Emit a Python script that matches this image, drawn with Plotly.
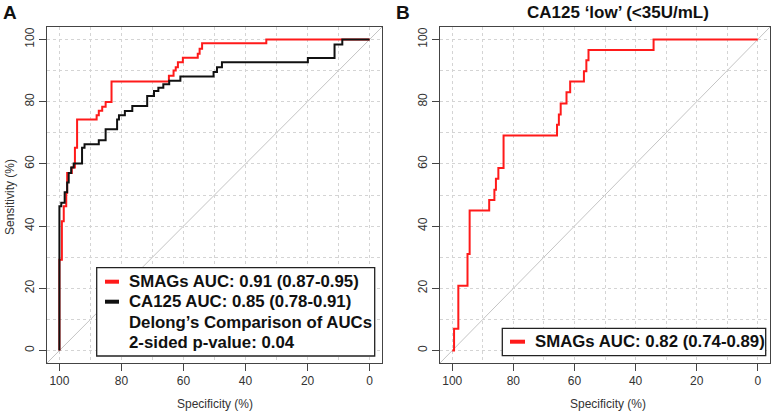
import plotly.graph_objects as go

# ---------------- data ----------------
# Panel A: SMAGs ROC (specificity %, sensitivity %), top of each vertical step
smags_a_spec = [100, 100, 99.2, 98.6, 97.8, 97.5, 96.0, 95.0, 94.3, 88.0, 87.3, 86.2, 85.1, 83.2,
                64.7, 63.2, 62.5, 61.8, 60.2, 55.4, 54.8, 54.0, 33.3, 0]
smags_a_sens = [0, 29.2, 41.6, 46.4, 50.7, 57.1, 58.8, 65.2, 74.3, 75.6, 77.1, 78.4, 79.9, 86.5,
                88.3, 90.0, 91.1, 92.7, 94.1, 95.4, 97.0, 98.8, 100, 100]
# Panel A: CA125 ROC
ca125_a_spec = [100, 100, 99.4, 98.3, 97.5, 97.0, 96.2, 95.4, 92.7, 91.9, 87.3, 85.1, 81.4, 80.8,
                78.9, 76.5, 71.7, 69.5, 68.1, 66.5, 64.6, 61.0, 50.3, 49.2, 47.6, 19.9, 11.3, 8.8, 0]
ca125_a_sens = [0, 46.4, 47.5, 50.9, 54.0, 57.1, 58.8, 60.1, 65.2, 66.3, 67.6, 71.1, 74.3, 75.6,
                77.0, 78.6, 81.8, 83.4, 84.5, 85.6, 86.7, 88.1, 89.5, 91.1, 92.7, 94.0, 98.4, 100, 100]
# Panel B: SMAGs ROC in CA125 'low'
smags_b_spec = [100, 99.4, 98.0, 95.0, 94.3, 87.9, 86.2, 85.7, 84.9, 83.2, 65.7, 65.1, 64.5, 62.6,
                61.4, 56.9, 56.1, 55.4, 34.1, 0]
smags_b_sens = [0, 7.0, 20.8, 31.0, 45.0, 48.4, 51.7, 55.2, 58.7, 69.1, 72.6, 75.9, 79.4, 83.0,
                86.5, 89.8, 93.3, 96.6, 100, 100]

tick_vals = [100, 80, 60, 40, 20, 0]
tick_text = ["100", "80", "60", "40", "20", "0"]
legend_a = ["SMAGs AUC: 0.91 (0.87-0.95)", "CA125 AUC: 0.85 (0.78-0.91)",
            "Delong’s Comparison of AUCs", "2-sided p-value: 0.04"]
legend_b = ["SMAGs AUC: 0.82 (0.74-0.89)"]
title_b = "CA125 ‘low’ (<35U/mL)"
x_title = "Specificity (%)"
y_title = "Sensitivity (%)"

# ---------------- figure ----------------
W, H = 777, 412
FONT = "Liberation Sans, Arial, sans-serif"
RED = "#ff1a1a"
BLACK = "#111111"


def px(x):
    return x / W


def py(y):
    return 1 - y / H


fig = go.Figure()
fig.add_trace(go.Scatter(x=smags_a_spec, y=smags_a_sens, mode="lines",
                         line=dict(color=RED, width=2, shape="hv"),
                         xaxis="x", yaxis="y", showlegend=False, name="SMAGs"))
fig.add_trace(go.Scatter(x=ca125_a_spec, y=ca125_a_sens, mode="lines",
                         line=dict(color=BLACK, width=2, shape="hv"),
                         xaxis="x", yaxis="y", showlegend=False, name="CA125"))
fig.add_trace(go.Scatter(x=smags_b_spec, y=smags_b_sens, mode="lines",
                         line=dict(color=RED, width=2, shape="hv"),
                         xaxis="x2", yaxis="y2", showlegend=False, name="SMAGs"))

axis_common = dict(
    range=[104, -4], tickmode="array", tickvals=tick_vals, ticktext=tick_text,
    ticks="outside", ticklen=7, tickcolor="#444", tickwidth=1,
    showline=True, linecolor="#444", linewidth=1, mirror=True,
    showgrid=True, gridcolor="#d4d4d4", griddash="dot", gridwidth=1,
    zeroline=False, tickfont=dict(family=FONT, size=12, color="#333"),
    minor=dict(tickmode="linear", tick0=0, dtick=10, showgrid=True,
               gridcolor="#d4d4d4", griddash="dot", gridwidth=1),
    fixedrange=True,
)
yaxis_common = dict(axis_common)
yaxis_common["range"] = [-4, 104]
yaxis_common["tickangle"] = -90

ytop, ybot = py(27), py(363)
fig.update_layout(
    width=W, height=H, autosize=False,
    margin=dict(l=0, r=0, t=0, b=0),
    paper_bgcolor="white", plot_bgcolor="white",
    xaxis=dict(axis_common, domain=[px(47), px(382)], anchor="y"),
    yaxis=dict(yaxis_common, domain=[ybot, ytop], anchor="x"),
    xaxis2=dict(axis_common, domain=[px(440), px(770)], anchor="y2"),
    yaxis2=dict(yaxis_common, domain=[ybot, ytop], anchor="x2"),
)

shapes = []
# chance diagonals across each plot box
for xr, yr in (("x domain", "y domain"), ("x2 domain", "y2 domain")):
    shapes.append(dict(type="line", xref=xr, yref=yr, x0=0, y0=0, x1=1, y1=1,
                       line=dict(color="#c4c4c4", width=1), layer="below"))
# legend boxes
shapes.append(dict(type="rect", xref="paper", yref="paper",
                   x0=px(96.7), x1=px(374.7), y0=py(356), y1=py(267.7),
                   line=dict(color="#222", width=1.3), fillcolor="white"))
shapes.append(dict(type="rect", xref="paper", yref="paper",
                   x0=px(502.3), x1=px(765.7), y0=py(355.7), y1=py(328.3),
                   line=dict(color="#222", width=1.3), fillcolor="white"))
# legend keys
for x0, x1, yy, col in ((105, 119, 281.7, RED), (105, 119, 301.7, BLACK), (510, 525, 341.7, RED)):
    shapes.append(dict(type="line", xref="paper", yref="paper",
                       x0=px(x0), x1=px(x1), y0=py(yy), y1=py(yy),
                       line=dict(color=col, width=4)))

ann = []
for t, yy in zip(legend_a, (281.7, 301.7, 322.3, 342.3)):
    ann.append(dict(text=f"<b>{t}</b>", x=px(126.7), y=py(yy), xref="paper", yref="paper",
                    xanchor="left", yanchor="middle", showarrow=False,
                    font=dict(family=FONT, size=16.8, color="#111")))
ann.append(dict(text=f"<b>{legend_b[0]}</b>", x=px(532.7), y=py(341.7), xref="paper", yref="paper",
                xanchor="left", yanchor="middle", showarrow=False,
                font=dict(family=FONT, size=16.8, color="#111")))
ann.append(dict(text="<b>A</b>", x=px(10), y=1, xref="paper", yref="paper",
                xanchor="center", yanchor="top", showarrow=False,
                font=dict(family=FONT, size=19, color="#111")))
ann.append(dict(text="<b>B</b>", x=px(403), y=1, xref="paper", yref="paper",
                xanchor="center", yanchor="top", showarrow=False,
                font=dict(family=FONT, size=19, color="#111")))
ann.append(dict(text=f"<b>{title_b}</b>", x=px(618), y=py(13), xref="paper", yref="paper",
                xanchor="center", yanchor="middle", showarrow=False,
                font=dict(family=FONT, size=17, color="#111")))
ann.append(dict(text=y_title, x=px(10), y=py(197), xref="paper", yref="paper",
                xanchor="center", yanchor="middle", showarrow=False, textangle=-90,
                font=dict(family=FONT, size=12, color="#333")))
for cx in (214.5, 607.7):
    ann.append(dict(text=x_title, x=px(cx), y=py(404), xref="paper", yref="paper",
                    xanchor="center", yanchor="middle", showarrow=False,
                    font=dict(family=FONT, size=12, color="#333")))

fig.update_layout(shapes=shapes, annotations=ann)
fig.write_html("out.html", config={"displayModeBar": False},
               post_script="document.body.style.margin='0';document.body.style.overflow='hidden';")
